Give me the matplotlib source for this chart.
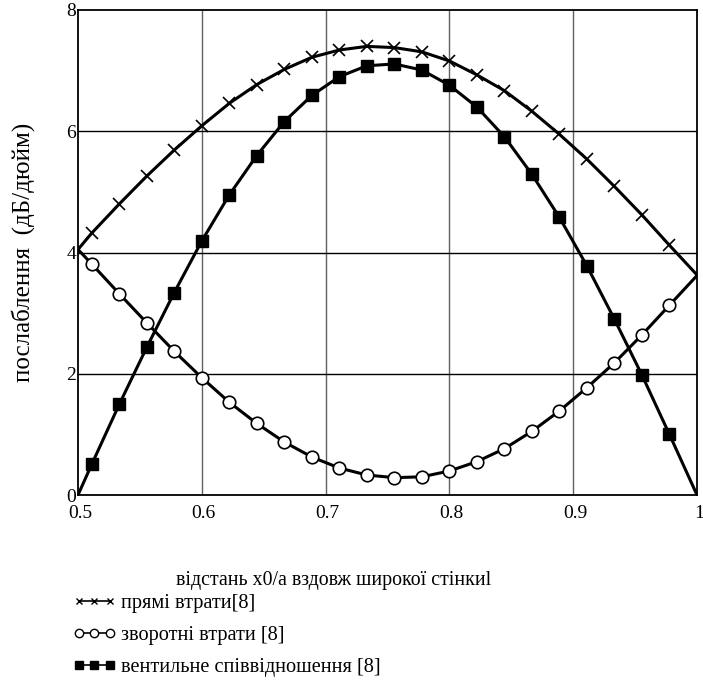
import numpy as np
import matplotlib
matplotlib.use("Agg")
import matplotlib.pyplot as plt
from matplotlib.lines import Line2D
from matplotlib.transforms import ScaledTranslation

plt.rcParams['font.family'] = ['Liberation Serif', 'DejaVu Serif']

# marker positions
x_mark = [0.5111 + k * 0.02222 for k in range(22)]
x_line = [0.5] + x_mark + [1.0]

forward = [4.32, 4.80, 5.26, 5.69, 6.09, 6.46, 6.77, 7.02, 7.22, 7.34, 7.40,
           7.38, 7.31, 7.16, 6.93, 6.67, 6.33, 5.95, 5.54, 5.09, 4.62, 4.12]
forward_ends = [4.05, 3.63]

reverse = [3.81, 3.32, 2.84, 2.37, 1.935, 1.53, 1.18, 0.874, 0.627, 0.445, 0.33,
           0.286, 0.30, 0.396, 0.55, 0.764, 1.05, 1.386, 1.77, 2.18, 2.64, 3.13]
reverse_ends = [4.05, 3.62]

ratio = [0.506, 1.495, 2.436, 3.34, 4.19, 4.95, 5.60, 6.16, 6.59, 6.90, 7.08,
         7.11, 7.01, 6.76, 6.40, 5.91, 5.29, 4.58, 3.78, 2.90, 1.98, 1.00]
ratio_ends = [0.0, 0.0]

x_ticks = [0.5, 0.6, 0.7, 0.8, 0.9, 1.0]
x_ticklabels = ['0.5', '0.6', '0.7', '0.8', '0.9', '1']
y_ticks = [0, 2, 4, 6, 8]
y_ticklabels = ['0', '2', '4', '6', '8']

labels = ['прямі втрати[8]', 'зворотні втрати [8]', 'вентильне співвідношення [8]']

fig = plt.figure(figsize=(7.03, 6.84), dpi=100)
ax = fig.add_axes([78 / 703, 1 - 495 / 684, (697 - 78) / 703, (495 - 10) / 684])

def full(vals, ends):
    return [ends[0]] + list(vals) + [ends[1]]

lw = 2.2
ax.plot(x_line, full(forward, forward_ends), color='black', lw=lw, zorder=3)
ax.plot(x_mark, forward, ls='none', marker='x', ms=9, mew=1.2, color='black', zorder=4)

ax.plot(x_line, full(reverse, reverse_ends), color='black', lw=lw, zorder=3)
ax.plot(x_mark, reverse, ls='none', marker='o', ms=9, mew=1.2, mfc='white',
        mec='black', zorder=4)

ax.plot(x_line, full(ratio, ratio_ends), color='black', lw=lw, zorder=3)
ax.plot(x_mark, ratio, ls='none', marker='s', ms=9, color='black', zorder=4)

ax.set_xlim(0.5, 1.0)
ax.set_ylim(0, 8)
ax.set_xticks(x_ticks)
ax.set_xticklabels(x_ticklabels)
ax.set_yticks(y_ticks)
ax.set_yticklabels(y_ticklabels)
ax.tick_params(length=0, labelsize=14)
ax.tick_params(axis='x', pad=7)
ax.tick_params(axis='y', pad=1.5)
for lab in ax.get_xticklabels():
    lab.set_transform(lab.get_transform() + ScaledTranslation(2 / 100, 0, fig.dpi_scale_trans))
for v in [0.6, 0.7, 0.8, 0.9]:
    ax.axvline(v, color='#606060', lw=1.0, zorder=1)
for v in [2, 4, 6]:
    ax.axhline(v, color='black', lw=1.0, zorder=1)
for s in ax.spines.values():
    s.set_linewidth(1.3)

fig.text(334 / 703, 1 - 580 / 684, 'відстань x0/a вздовж широкої стінкиl',
         ha='center', va='center', fontsize=14.3)
fig.text(23 / 703, 1 - 252 / 684, 'послаблення  (дБ/дюйм)', rotation=90,
         ha='center', va='center', fontsize=18)

handles = [
    Line2D([], [], color='black', lw=1.2, marker='x', ms=5, mew=1.0),
    Line2D([], [], color='black', lw=1.2, marker='o', ms=6, mew=1.0, mfc='white'),
    Line2D([], [], color='black', lw=1.2, marker='s', ms=6),
]
fig.legend(handles, labels, loc='upper left', bbox_to_anchor=(73 / 703, 1 - 594 / 684),
           frameon=False, numpoints=3, handlelength=2.1, handletextpad=0.25,
           labelspacing=0.62, fontsize=14.6, borderpad=0, borderaxespad=0)

fig.savefig('out.png', dpi=100)
